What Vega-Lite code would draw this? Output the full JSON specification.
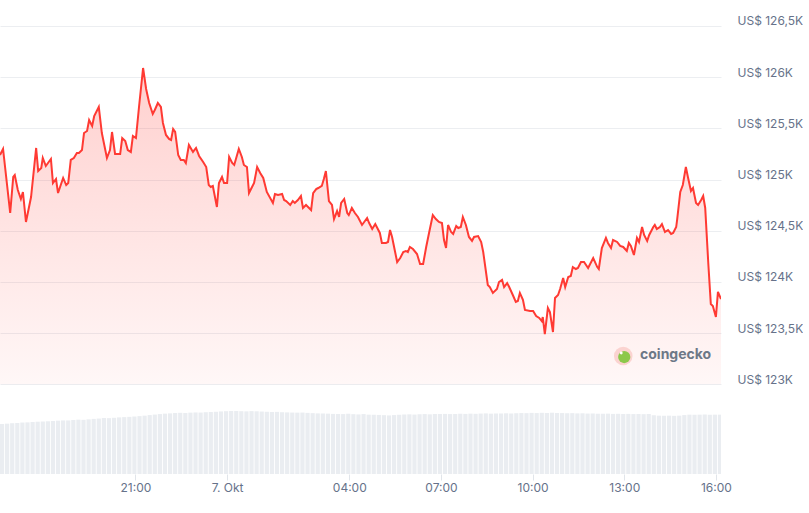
{
  "$schema": "https://vega.github.io/schema/vega-lite/v6.json",
  "width": 721,
  "height": 474,
  "padding": 0,
  "background": "white",
  "config": {"view": {"stroke": null}, "font": "Inter"},
  "datasets": {
    "price": [
      {"t":"2025-10-06T16:34","p":125239},{"t":"2025-10-06T16:40","p":125298},{"t":"2025-10-06T16:54","p":124673},{"t":"2025-10-06T17:00","p":125025},{"t":"2025-10-06T17:03","p":125044},{"t":"2025-10-06T17:09","p":124898},{"t":"2025-10-06T17:15","p":124810},{"t":"2025-10-06T17:19","p":124878},{"t":"2025-10-06T17:25","p":124585},{"t":"2025-10-06T17:35","p":124829},
      {"t":"2025-10-06T17:45","p":125308},{"t":"2025-10-06T17:49","p":125083},{"t":"2025-10-06T17:55","p":125112},{"t":"2025-10-06T17:58","p":125210},{"t":"2025-10-06T18:04","p":125132},{"t":"2025-10-06T18:14","p":125200},{"t":"2025-10-06T18:18","p":124966},{"t":"2025-10-06T18:24","p":125005},{"t":"2025-10-06T18:28","p":124868},{"t":"2025-10-06T18:38","p":125015},
      {"t":"2025-10-06T18:44","p":124946},{"t":"2025-10-06T18:48","p":124966},{"t":"2025-10-06T18:53","p":125191},{"t":"2025-10-06T18:59","p":125210},{"t":"2025-10-06T19:05","p":125259},{"t":"2025-10-06T19:09","p":125259},{"t":"2025-10-06T19:15","p":125288},{"t":"2025-10-06T19:19","p":125454},{"t":"2025-10-06T19:25","p":125474},{"t":"2025-10-06T19:29","p":125581},
      {"t":"2025-10-06T19:35","p":125522},{"t":"2025-10-06T19:39","p":125620},{"t":"2025-10-06T19:48","p":125708},{"t":"2025-10-06T19:54","p":125454},{"t":"2025-10-06T20:04","p":125210},{"t":"2025-10-06T20:10","p":125288},{"t":"2025-10-06T20:14","p":125464},{"t":"2025-10-06T20:20","p":125249},{"t":"2025-10-06T20:30","p":125249},{"t":"2025-10-06T20:34","p":125405},
      {"t":"2025-10-06T20:40","p":125376},{"t":"2025-10-06T20:45","p":125288},{"t":"2025-10-06T20:51","p":125269},{"t":"2025-10-06T20:55","p":125425},{"t":"2025-10-06T21:01","p":125405},{"t":"2025-10-06T21:07","p":125708},{"t":"2025-10-06T21:15","p":126089},{"t":"2025-10-06T21:21","p":125884},{"t":"2025-10-06T21:27","p":125747},{"t":"2025-10-06T21:34","p":125640},
      {"t":"2025-10-06T21:38","p":125679},{"t":"2025-10-06T21:44","p":125747},{"t":"2025-10-06T21:50","p":125708},{"t":"2025-10-06T21:54","p":125552},{"t":"2025-10-06T22:00","p":125435},{"t":"2025-10-06T22:06","p":125396},{"t":"2025-10-06T22:10","p":125386},{"t":"2025-10-06T22:14","p":125493},{"t":"2025-10-06T22:18","p":125464},{"t":"2025-10-06T22:24","p":125239},
      {"t":"2025-10-06T22:29","p":125191},{"t":"2025-10-06T22:35","p":125191},{"t":"2025-10-06T22:39","p":125161},{"t":"2025-10-06T22:45","p":125337},{"t":"2025-10-06T22:53","p":125269},{"t":"2025-10-06T22:59","p":125308},{"t":"2025-10-06T23:05","p":125230},{"t":"2025-10-06T23:13","p":125171},{"t":"2025-10-06T23:19","p":125122},{"t":"2025-10-06T23:24","p":124946},
      {"t":"2025-10-06T23:28","p":124927},{"t":"2025-10-06T23:32","p":124937},{"t":"2025-10-06T23:40","p":124732},{"t":"2025-10-06T23:44","p":124966},{"t":"2025-10-06T23:50","p":125025},{"t":"2025-10-06T23:54","p":124966},{"t":"2025-10-07T00:00","p":124966},{"t":"2025-10-07T00:04","p":125220},{"t":"2025-10-07T00:10","p":125161},{"t":"2025-10-07T00:14","p":125142},
      {"t":"2025-10-07T00:23","p":125298},{"t":"2025-10-07T00:29","p":125220},{"t":"2025-10-07T00:33","p":125142},{"t":"2025-10-07T00:39","p":125122},{"t":"2025-10-07T00:43","p":124868},{"t":"2025-10-07T00:49","p":124927},{"t":"2025-10-07T00:53","p":124966},{"t":"2025-10-07T00:59","p":125122},{"t":"2025-10-07T01:05","p":125064},{"t":"2025-10-07T01:11","p":125015},
      {"t":"2025-10-07T01:18","p":124878},{"t":"2025-10-07T01:30","p":124771},{"t":"2025-10-07T01:34","p":124858},{"t":"2025-10-07T01:40","p":124849},{"t":"2025-10-07T01:48","p":124858},{"t":"2025-10-07T01:52","p":124800},{"t":"2025-10-07T01:56","p":124790},{"t":"2025-10-07T02:04","p":124751},{"t":"2025-10-07T02:09","p":124790},{"t":"2025-10-07T02:13","p":124771},
      {"t":"2025-10-07T02:19","p":124800},{"t":"2025-10-07T02:25","p":124839},{"t":"2025-10-07T02:29","p":124722},{"t":"2025-10-07T02:35","p":124751},{"t":"2025-10-07T02:39","p":124732},{"t":"2025-10-07T02:45","p":124702},{"t":"2025-10-07T02:49","p":124868},{"t":"2025-10-07T02:55","p":124907},{"t":"2025-10-07T02:59","p":124917},{"t":"2025-10-07T03:06","p":124937},
      {"t":"2025-10-07T03:10","p":125005},{"t":"2025-10-07T03:14","p":125083},{"t":"2025-10-07T03:20","p":124790},{"t":"2025-10-07T03:26","p":124751},{"t":"2025-10-07T03:30","p":124614},{"t":"2025-10-07T03:36","p":124692},{"t":"2025-10-07T03:40","p":124634},{"t":"2025-10-07T03:44","p":124771},{"t":"2025-10-07T03:50","p":124810},{"t":"2025-10-07T03:56","p":124673},
      {"t":"2025-10-07T03:59","p":124653},{"t":"2025-10-07T04:05","p":124722},{"t":"2025-10-07T04:11","p":124673},{"t":"2025-10-07T04:17","p":124634},{"t":"2025-10-07T04:25","p":124556},{"t":"2025-10-07T04:35","p":124624},{"t":"2025-10-07T04:39","p":124575},{"t":"2025-10-07T04:45","p":124517},{"t":"2025-10-07T04:51","p":124565},{"t":"2025-10-07T04:54","p":124536},
      {"t":"2025-10-07T05:00","p":124478},{"t":"2025-10-07T05:04","p":124380},{"t":"2025-10-07T05:12","p":124380},{"t":"2025-10-07T05:16","p":124390},{"t":"2025-10-07T05:20","p":124507},{"t":"2025-10-07T05:24","p":124439},{"t":"2025-10-07T05:30","p":124292},{"t":"2025-10-07T05:34","p":124194},{"t":"2025-10-07T05:40","p":124233},{"t":"2025-10-07T05:46","p":124292},
      {"t":"2025-10-07T05:51","p":124302},{"t":"2025-10-07T05:55","p":124292},{"t":"2025-10-07T05:59","p":124341},{"t":"2025-10-07T06:05","p":124321},{"t":"2025-10-07T06:13","p":124272},{"t":"2025-10-07T06:19","p":124175},{"t":"2025-10-07T06:25","p":124175},{"t":"2025-10-07T06:31","p":124341},{"t":"2025-10-07T06:37","p":124487},{"t":"2025-10-07T06:44","p":124653},
      {"t":"2025-10-07T06:50","p":124614},{"t":"2025-10-07T06:56","p":124585},{"t":"2025-10-07T07:02","p":124575},{"t":"2025-10-07T07:06","p":124409},{"t":"2025-10-07T07:10","p":124331},{"t":"2025-10-07T07:14","p":124556},{"t":"2025-10-07T07:20","p":124487},{"t":"2025-10-07T07:24","p":124468},{"t":"2025-10-07T07:30","p":124546},{"t":"2025-10-07T07:34","p":124526},
      {"t":"2025-10-07T07:39","p":124536},{"t":"2025-10-07T07:43","p":124634},{"t":"2025-10-07T07:49","p":124556},{"t":"2025-10-07T07:55","p":124439},{"t":"2025-10-07T08:01","p":124400},{"t":"2025-10-07T08:05","p":124439},{"t":"2025-10-07T08:13","p":124448},{"t":"2025-10-07T08:19","p":124390},{"t":"2025-10-07T08:23","p":124292},{"t":"2025-10-07T08:32","p":123970},
      {"t":"2025-10-07T08:36","p":123950},{"t":"2025-10-07T08:42","p":123892},{"t":"2025-10-07T08:50","p":123931},{"t":"2025-10-07T08:54","p":123999},{"t":"2025-10-07T09:00","p":124019},{"t":"2025-10-07T09:04","p":123950},{"t":"2025-10-07T09:10","p":123989},{"t":"2025-10-07T09:14","p":123950},{"t":"2025-10-07T09:22","p":123862},{"t":"2025-10-07T09:27","p":123804},
      {"t":"2025-10-07T09:31","p":123814},{"t":"2025-10-07T09:35","p":123892},{"t":"2025-10-07T09:41","p":123824},{"t":"2025-10-07T09:45","p":123726},{"t":"2025-10-07T09:55","p":123716},{"t":"2025-10-07T10:01","p":123716},{"t":"2025-10-07T10:07","p":123667},{"t":"2025-10-07T10:13","p":123648},{"t":"2025-10-07T10:18","p":123618},{"t":"2025-10-07T10:20","p":123657},
      {"t":"2025-10-07T10:24","p":123491},{"t":"2025-10-07T10:30","p":123745},{"t":"2025-10-07T10:34","p":123706},{"t":"2025-10-07T10:40","p":123511},{"t":"2025-10-07T10:44","p":123843},{"t":"2025-10-07T10:50","p":123872},{"t":"2025-10-07T10:54","p":123931},{"t":"2025-10-07T11:00","p":124038},{"t":"2025-10-07T11:04","p":123950},{"t":"2025-10-07T11:10","p":124048},
      {"t":"2025-10-07T11:15","p":124058},{"t":"2025-10-07T11:19","p":124145},{"t":"2025-10-07T11:25","p":124126},{"t":"2025-10-07T11:29","p":124136},{"t":"2025-10-07T11:35","p":124194},{"t":"2025-10-07T11:41","p":124194},{"t":"2025-10-07T11:49","p":124136},{"t":"2025-10-07T11:59","p":124233},{"t":"2025-10-07T12:07","p":124145},{"t":"2025-10-07T12:10","p":124126},
      {"t":"2025-10-07T12:16","p":124331},{"t":"2025-10-07T12:24","p":124429},{"t":"2025-10-07T12:28","p":124380},{"t":"2025-10-07T12:34","p":124331},{"t":"2025-10-07T12:38","p":124409},{"t":"2025-10-07T12:46","p":124390},{"t":"2025-10-07T12:52","p":124351},{"t":"2025-10-07T12:58","p":124341},{"t":"2025-10-07T13:05","p":124302},{"t":"2025-10-07T13:09","p":124380},
      {"t":"2025-10-07T13:13","p":124351},{"t":"2025-10-07T13:19","p":124263},{"t":"2025-10-07T13:25","p":124429},{"t":"2025-10-07T13:29","p":124390},{"t":"2025-10-07T13:35","p":124536},{"t":"2025-10-07T13:39","p":124458},{"t":"2025-10-07T13:45","p":124400},{"t":"2025-10-07T13:49","p":124458},{"t":"2025-10-07T13:57","p":124536},{"t":"2025-10-07T14:00","p":124556},
      {"t":"2025-10-07T14:04","p":124517},{"t":"2025-10-07T14:10","p":124536},{"t":"2025-10-07T14:14","p":124565},{"t":"2025-10-07T14:20","p":124487},{"t":"2025-10-07T14:26","p":124507},{"t":"2025-10-07T14:32","p":124468},{"t":"2025-10-07T14:36","p":124478},{"t":"2025-10-07T14:42","p":124536},{"t":"2025-10-07T14:44","p":124614},{"t":"2025-10-07T14:50","p":124878},
      {"t":"2025-10-07T14:55","p":124946},{"t":"2025-10-07T15:01","p":125122},{"t":"2025-10-07T15:05","p":125025},{"t":"2025-10-07T15:11","p":124888},{"t":"2025-10-07T15:15","p":124917},{"t":"2025-10-07T15:21","p":124771},{"t":"2025-10-07T15:25","p":124751},{"t":"2025-10-07T15:31","p":124800},{"t":"2025-10-07T15:35","p":124839},{"t":"2025-10-07T15:39","p":124722},
      {"t":"2025-10-07T15:45","p":124185},{"t":"2025-10-07T15:50","p":123784},{"t":"2025-10-07T15:54","p":123765},{"t":"2025-10-07T16:00","p":123657},{"t":"2025-10-07T16:04","p":123902},{"t":"2025-10-07T16:10","p":123833}
    ],
    "volume": [
      {"t":"2025-10-06T16:38","v":59.1},{"t":"2025-10-06T16:48","v":59.5},{"t":"2025-10-06T16:58","v":60.0},{"t":"2025-10-06T17:08","v":60.3},{"t":"2025-10-06T17:18","v":60.8},{"t":"2025-10-06T17:28","v":61.0},{"t":"2025-10-06T17:38","v":61.4},{"t":"2025-10-06T17:48","v":61.8},{"t":"2025-10-06T17:58","v":62.0},{"t":"2025-10-06T18:08","v":62.3},
      {"t":"2025-10-06T18:18","v":62.6},{"t":"2025-10-06T18:28","v":63.0},{"t":"2025-10-06T18:38","v":63.3},{"t":"2025-10-06T18:48","v":63.3},{"t":"2025-10-06T18:58","v":63.8},{"t":"2025-10-06T19:08","v":64.2},{"t":"2025-10-06T19:18","v":64.0},{"t":"2025-10-06T19:28","v":64.6},{"t":"2025-10-06T19:38","v":65.1},{"t":"2025-10-06T19:48","v":65.5},
      {"t":"2025-10-06T19:58","v":66.2},{"t":"2025-10-06T20:08","v":66.0},{"t":"2025-10-06T20:18","v":66.4},{"t":"2025-10-06T20:28","v":66.9},{"t":"2025-10-06T20:38","v":67.2},{"t":"2025-10-06T20:48","v":67.5},{"t":"2025-10-06T20:58","v":67.9},{"t":"2025-10-06T21:08","v":68.4},{"t":"2025-10-06T21:18","v":68.9},{"t":"2025-10-06T21:28","v":69.6},
      {"t":"2025-10-06T21:38","v":70.2},{"t":"2025-10-06T21:48","v":70.8},{"t":"2025-10-06T21:58","v":71.3},{"t":"2025-10-06T22:08","v":71.6},{"t":"2025-10-06T22:18","v":72.1},{"t":"2025-10-06T22:28","v":72.3},{"t":"2025-10-06T22:38","v":72.1},{"t":"2025-10-06T22:48","v":72.5},{"t":"2025-10-06T22:58","v":72.7},{"t":"2025-10-06T23:08","v":72.6},
      {"t":"2025-10-06T23:18","v":73.0},{"t":"2025-10-06T23:28","v":73.2},{"t":"2025-10-06T23:38","v":73.5},{"t":"2025-10-06T23:48","v":73.9},{"t":"2025-10-06T23:58","v":74.2},{"t":"2025-10-07T00:08","v":74.4},{"t":"2025-10-07T00:18","v":74.4},{"t":"2025-10-07T00:28","v":74.2},{"t":"2025-10-07T00:38","v":74.0},{"t":"2025-10-07T00:48","v":74.3},
      {"t":"2025-10-07T00:58","v":74.1},{"t":"2025-10-07T01:08","v":73.8},{"t":"2025-10-07T01:18","v":73.5},{"t":"2025-10-07T01:28","v":73.2},{"t":"2025-10-07T01:38","v":73.4},{"t":"2025-10-07T01:48","v":73.0},{"t":"2025-10-07T01:58","v":72.8},{"t":"2025-10-07T02:08","v":72.6},{"t":"2025-10-07T02:18","v":72.5},{"t":"2025-10-07T02:28","v":72.6},
      {"t":"2025-10-07T02:38","v":72.2},{"t":"2025-10-07T02:48","v":71.9},{"t":"2025-10-07T02:58","v":71.6},{"t":"2025-10-07T03:08","v":71.5},{"t":"2025-10-07T03:18","v":71.3},{"t":"2025-10-07T03:28","v":71.0},{"t":"2025-10-07T03:38","v":70.9},{"t":"2025-10-07T03:48","v":70.8},{"t":"2025-10-07T03:58","v":71.2},{"t":"2025-10-07T04:08","v":70.7},
      {"t":"2025-10-07T04:18","v":70.4},{"t":"2025-10-07T04:28","v":70.8},{"t":"2025-10-07T04:38","v":70.1},{"t":"2025-10-07T04:48","v":70.0},{"t":"2025-10-07T04:58","v":69.8},{"t":"2025-10-07T05:08","v":69.5},{"t":"2025-10-07T05:18","v":69.2},{"t":"2025-10-07T05:28","v":69.6},{"t":"2025-10-07T05:38","v":70.0},{"t":"2025-10-07T05:48","v":70.3},
      {"t":"2025-10-07T05:58","v":70.5},{"t":"2025-10-07T06:08","v":70.2},{"t":"2025-10-07T06:18","v":70.6},{"t":"2025-10-07T06:28","v":70.8},{"t":"2025-10-07T06:38","v":70.5},{"t":"2025-10-07T06:48","v":70.9},{"t":"2025-10-07T06:58","v":70.9},{"t":"2025-10-07T07:08","v":71.0},{"t":"2025-10-07T07:18","v":70.8},{"t":"2025-10-07T07:28","v":70.9},
      {"t":"2025-10-07T07:38","v":71.2},{"t":"2025-10-07T07:48","v":71.0},{"t":"2025-10-07T07:58","v":71.3},{"t":"2025-10-07T08:08","v":71.1},{"t":"2025-10-07T08:18","v":71.4},{"t":"2025-10-07T08:28","v":71.6},{"t":"2025-10-07T08:38","v":71.3},{"t":"2025-10-07T08:48","v":71.5},{"t":"2025-10-07T08:58","v":71.5},{"t":"2025-10-07T09:08","v":71.7},
      {"t":"2025-10-07T09:18","v":71.4},{"t":"2025-10-07T09:28","v":71.8},{"t":"2025-10-07T09:38","v":72.0},{"t":"2025-10-07T09:48","v":71.9},{"t":"2025-10-07T09:58","v":72.2},{"t":"2025-10-07T10:08","v":72.0},{"t":"2025-10-07T10:18","v":72.3},{"t":"2025-10-07T10:28","v":72.1},{"t":"2025-10-07T10:38","v":72.4},{"t":"2025-10-07T10:48","v":72.1},
      {"t":"2025-10-07T10:58","v":72.0},{"t":"2025-10-07T11:08","v":71.8},{"t":"2025-10-07T11:18","v":71.9},{"t":"2025-10-07T11:28","v":71.6},{"t":"2025-10-07T11:38","v":71.7},{"t":"2025-10-07T11:48","v":71.4},{"t":"2025-10-07T11:58","v":71.5},{"t":"2025-10-07T12:08","v":71.2},{"t":"2025-10-07T12:18","v":71.2},{"t":"2025-10-07T12:28","v":71.3},
      {"t":"2025-10-07T12:38","v":71.0},{"t":"2025-10-07T12:48","v":71.1},{"t":"2025-10-07T12:58","v":70.9},{"t":"2025-10-07T13:08","v":71.0},{"t":"2025-10-07T13:18","v":70.8},{"t":"2025-10-07T13:28","v":70.9},{"t":"2025-10-07T13:38","v":70.7},{"t":"2025-10-07T13:48","v":70.9},{"t":"2025-10-07T13:58","v":69.4},{"t":"2025-10-07T14:08","v":68.9},
      {"t":"2025-10-07T14:18","v":68.8},{"t":"2025-10-07T14:28","v":68.9},{"t":"2025-10-07T14:38","v":68.7},{"t":"2025-10-07T14:48","v":68.9},{"t":"2025-10-07T14:58","v":69.6},{"t":"2025-10-07T15:08","v":70.1},{"t":"2025-10-07T15:18","v":70.0},{"t":"2025-10-07T15:28","v":70.1},{"t":"2025-10-07T15:38","v":70.3},{"t":"2025-10-07T15:48","v":70.0},
      {"t":"2025-10-07T15:58","v":70.1},{"t":"2025-10-07T16:08","v":70.1}
    ],
    "logo": [
      {"t":"2025-10-07T12:58","p":123276,"label":"coingecko"}
    ],
    "logotext": [
      {"t":"2025-10-07T13:31","p":123286,"label":"coingecko"}
    ]
  },
  "encoding": {
    "x": {
      "field": "t",
      "type": "temporal",
      "scale": {"domain": [{"year": 2025, "month": 10, "date": 6, "hours": 16, "minutes": 34}, {"year": 2025, "month": 10, "date": 7, "hours": 16, "minutes": 10}], "nice": false, "padding": 0},
      "axis": {
        "title": null,
        "grid": false,
        "domain": false,
        "tickSize": 6,
        "tickColor": "#e1e5ea",
        "labelPadding": 2,
        "labelFontSize": 12,
        "labelColor": "#66728a",
        "labelFont": "Inter",
        "values": [
          {"year": 2025, "month": 10, "date": 6, "hours": 21},
          {"year": 2025, "month": 10, "date": 7, "hours": 0},
          {"year": 2025, "month": 10, "date": 7, "hours": 4},
          {"year": 2025, "month": 10, "date": 7, "hours": 7},
          {"year": 2025, "month": 10, "date": 7, "hours": 10},
          {"year": 2025, "month": 10, "date": 7, "hours": 13},
          {"year": 2025, "month": 10, "date": 7, "hours": 16}
        ],
        "labelExpr": "hours(datum.value) == 0 ? '7. Okt' : timeFormat(datum.value, '%H:%M')"
      }
    }
  },
  "layer": [
    {
      "data": {"name": "volume"},
      "mark": {"type": "bar", "width": 4.2, "color": "#eaedf1", "clip": true},
      "encoding": {
        "y": {"field": "v", "type": "quantitative", "scale": {"domain": [0, 560], "nice": false, "zero": true}, "axis": null}
      }
    },
    {
      "encoding": {
        "y": {
          "field": "p",
          "type": "quantitative",
          "scale": {"domain": [122124, 126753], "nice": false, "zero": false},
          "axis": {
            "orient": "right",
            "title": null,
            "values": [123000, 123500, 124000, 124500, 125000, 125500, 126000, 126500],
            "grid": true,
            "gridColor": "#eceef1",
            "gridWidth": 1,
            "ticks": false,
            "tickSize": 0,
            "domain": false,
            "labelPadding": 16,
            "labelOffset": -5,
            "labelFontSize": 12,
            "labelColor": "#66728a",
            "labelFont": "Inter",
            "labelExpr": "'US$ ' + replace(format(datum.value / 1000, '.1~f'), '.', ',') + 'K'"
          }
        }
      },
      "layer": [
        {
          "data": {"name": "price"},
          "mark": {
            "type": "area",
            "interpolate": "linear",
            "clip": true,
            "color": {
              "gradient": "linear",
              "x1": 0, "y1": 0, "x2": 0, "y2": 1,
              "stops": [
                {"offset": 0, "color": "rgba(255,58,51,0.24)"},
                {"offset": 1, "color": "rgba(255,58,51,0.04)"}
              ]
            }
          },
          "encoding": {
            "y2": {"datum": 123000}
          }
        },
        {
          "data": {"name": "price"},
          "mark": {"type": "line", "color": "#ff3a33", "strokeWidth": 2, "interpolate": "linear", "clip": true},
          "encoding": {}
        },
        {
          "data": {"name": "logo"},
          "mark": {"type": "point", "shape": "circle", "filled": true, "size": 346, "color": "#fbd3d0", "opacity": 1},
          "encoding": {}
        },
        {
          "data": {"name": "logo"},
          "mark": {"type": "point", "shape": "circle", "filled": true, "size": 150, "color": "#8cc84b", "opacity": 1, "xOffset": 1, "yOffset": 1},
          "encoding": {}
        },
        {
          "data": {"name": "logo"},
          "mark": {"type": "point", "shape": "circle", "filled": true, "size": 8, "color": "#ffffff", "opacity": 1, "xOffset": -2, "yOffset": -3},
          "encoding": {}
        },
        {
          "data": {"name": "logotext"},
          "mark": {"type": "text", "align": "left", "baseline": "middle", "font": "Inter", "fontSize": 14, "fontWeight": "bold", "color": "#6d7887"},
          "encoding": {
            "text": {"field": "label"}
          }
        }
      ]
    }
  ],
  "resolve": {"scale": {"y": "independent"}, "axis": {"y": "independent"}}
}
